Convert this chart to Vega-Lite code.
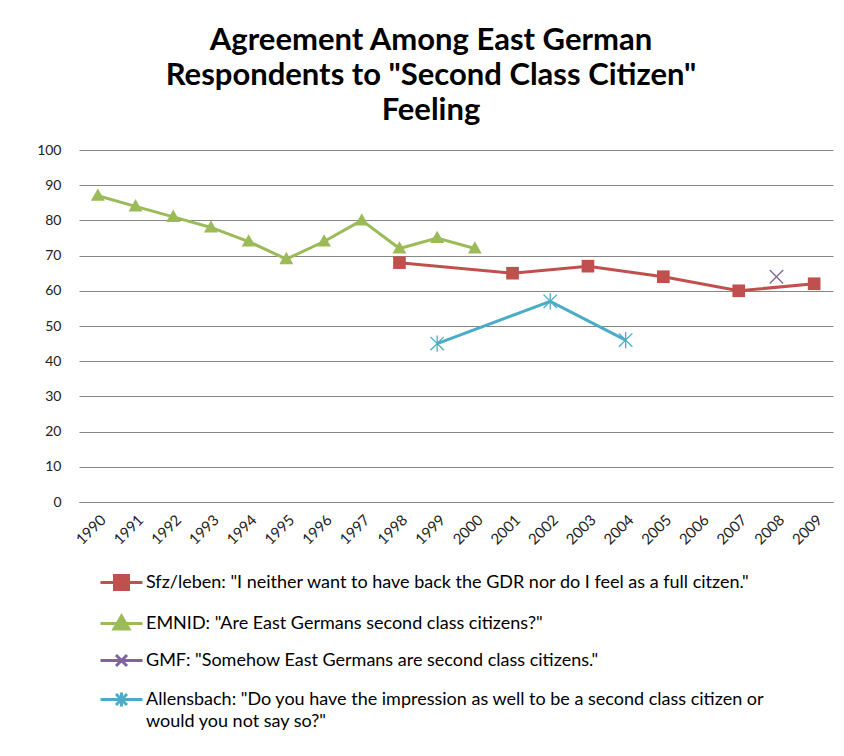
{
  "$schema": "https://vega.github.io/schema/vega-lite/v6.json",
  "autosize": "none",
  "width": 754,
  "height": 352,
  "padding": {"left": 79, "top": 150, "right": 11, "bottom": 254},
  "background": "white",
  "config": {
    "font": "Lato",
    "view": {"stroke": null},
    "axis": {"labelFont": "Lato", "labelFontSize": 14, "labelColor": "#222"}
  },
  "title": {
    "text": ["Agreement Among East German", "Respondents to \"Second Class Citizen\"", "Feeling"],
    "font": "Lato",
    "fontSize": 31,
    "fontWeight": "bold",
    "lineHeight": 35,
    "anchor": "middle",
    "dx": -25,
    "offset": 16,
    "color": "#000"
  },
  "data": {
    "values": [
      {"year": "1990", "value": 87, "series": "EMNID: \"Are East Germans second class citizens?\""},
      {"year": "1991", "value": 84, "series": "EMNID: \"Are East Germans second class citizens?\""},
      {"year": "1992", "value": 81, "series": "EMNID: \"Are East Germans second class citizens?\""},
      {"year": "1993", "value": 78, "series": "EMNID: \"Are East Germans second class citizens?\""},
      {"year": "1994", "value": 74, "series": "EMNID: \"Are East Germans second class citizens?\""},
      {"year": "1995", "value": 69, "series": "EMNID: \"Are East Germans second class citizens?\""},
      {"year": "1996", "value": 74, "series": "EMNID: \"Are East Germans second class citizens?\""},
      {"year": "1997", "value": 80, "series": "EMNID: \"Are East Germans second class citizens?\""},
      {"year": "1998", "value": 72, "series": "EMNID: \"Are East Germans second class citizens?\""},
      {"year": "1999", "value": 75, "series": "EMNID: \"Are East Germans second class citizens?\""},
      {"year": "2000", "value": 72, "series": "EMNID: \"Are East Germans second class citizens?\""},
      {"year": "1998", "value": 68, "series": "Sfz/leben: \"I neither want to have back the GDR nor do I feel as a full citzen.\""},
      {"year": "2001", "value": 65, "series": "Sfz/leben: \"I neither want to have back the GDR nor do I feel as a full citzen.\""},
      {"year": "2003", "value": 67, "series": "Sfz/leben: \"I neither want to have back the GDR nor do I feel as a full citzen.\""},
      {"year": "2005", "value": 64, "series": "Sfz/leben: \"I neither want to have back the GDR nor do I feel as a full citzen.\""},
      {"year": "2007", "value": 60, "series": "Sfz/leben: \"I neither want to have back the GDR nor do I feel as a full citzen.\""},
      {"year": "2009", "value": 62, "series": "Sfz/leben: \"I neither want to have back the GDR nor do I feel as a full citzen.\""},
      {"year": "2008", "value": 64, "series": "GMF: \"Somehow East Germans are second class citizens.\""},
      {"year": "1999", "value": 45, "series": "Allensbach: \"Do you have the impression as well to be a second class citizen or would you not say so?\""},
      {"year": "2002", "value": 57, "series": "Allensbach: \"Do you have the impression as well to be a second class citizen or would you not say so?\""},
      {"year": "2004", "value": 46, "series": "Allensbach: \"Do you have the impression as well to be a second class citizen or would you not say so?\""}
    ]
  },
  "encoding": {
    "x": {
      "field": "year",
      "type": "ordinal",
      "scale": {"domain": ["1990","1991","1992","1993","1994","1995","1996","1997","1998","1999","2000","2001","2002","2003","2004","2005","2006","2007","2008","2009"], "paddingInner": 0, "paddingOuter": 0},
      "axis": {"title": null, "labelAngle": -45, "labelAlign": "right", "labelBaseline": "top", "labelPadding": 10, "labelFontSize": 15, "ticks": false, "domainColor": "#868686", "domainWidth": 1}
    },
    "y": {
      "field": "value",
      "type": "quantitative",
      "scale": {"domain": [0, 100], "nice": false},
      "axis": {"title": null, "values": [0,10,20,30,40,50,60,70,80,90,100], "grid": true, "gridColor": "#868686", "gridWidth": 1, "domain": false, "ticks": false, "labelPadding": 18}
    },
    "color": {
      "field": "series",
      "type": "nominal",
      "scale": {
        "domain": [
          "Sfz/leben: \"I neither want to have back the GDR nor do I feel as a full citzen.\"",
          "EMNID: \"Are East Germans second class citizens?\"",
          "GMF: \"Somehow East Germans are second class citizens.\"",
          "Allensbach: \"Do you have the impression as well to be a second class citizen or would you not say so?\""
        ],
        "range": ["#C0504D", "#9BBB59", "#8064A2", "#4BACC6"]
      },
      "legend": {
        "title": null,
        "orient": "none",
        "direction": "vertical",
        "legendX": 31,
        "legendY": 421,
        "padding": 0,
        "symbolSize": 400,
        "rowPadding": 14,
        "labelOffset": 13,
        "labelLimit": 1000,
        "labelFont": "Lato",
        "labelFontSize": 18,
        "labelColor": "#000",
        "labelExpr": "indexof(datum.label, ' would') > 0 ? [slice(datum.label, 0, indexof(datum.label, ' would')), slice(datum.label, indexof(datum.label, ' would') + 1)] : datum.label",
        "encode": {
          "labels": {"update": {"lineHeight": {"value": 22}}},
          "symbols": {
            "update": {
              "shape": {"signal": "indexof(datum.value,'Sfz')==0 ? 'M-2.1,0H2.1M-0.7,-0.7H0.7V0.7H-0.7Z' : indexof(datum.value,'EMNID')==0 ? 'M-2.1,0H2.1M0,-0.75L0.75,0.55H-0.75Z' : indexof(datum.value,'GMF')==0 ? 'M-2.1,0H2.1M-0.55,-0.55L0.55,0.55M-0.55,0.55L0.55,-0.55' : 'M-2.1,0H2.1M-0.55,-0.55L0.55,0.55M-0.55,0.55L0.55,-0.55M0,-0.7V0.7'"},
              "fill": {"signal": "scale('color', datum.value)"},
              "stroke": {"signal": "scale('color', datum.value)"},
              "strokeWidth": {"value": 3},
              "opacity": {"value": 1},
              "size": {"value": 400}
            }
          }
        }
      }
    }
  },
  "layer": [
    {
      "mark": {"type": "line", "strokeWidth": 3},
      "encoding": {"order": {"field": "year", "type": "ordinal"}}
    },
    {
      "transform": [{"filter": "indexof(datum.series,'Sfz')==0 || indexof(datum.series,'EMNID')==0"}],
      "mark": {"type": "point", "filled": true, "opacity": 1, "size": 160},
      "encoding": {
        "shape": {
          "field": "series",
          "type": "nominal",
          "scale": {
            "domain": [
              "Sfz/leben: \"I neither want to have back the GDR nor do I feel as a full citzen.\"",
              "EMNID: \"Are East Germans second class citizens?\""
            ],
            "range": ["M-1,-1H1V1H-1Z", "M0,-1.15L1.1,0.8H-1.1Z"]
          },
          "legend": null
        }
      }
    },
    {
      "transform": [{"filter": "indexof(datum.series,'GMF')==0 || indexof(datum.series,'Allensbach')==0"}],
      "mark": {"type": "point", "filled": false, "opacity": 1, "size": 180, "strokeWidth": 1.3},
      "encoding": {
        "shape": {
          "field": "series",
          "type": "nominal",
          "scale": {
            "domain": [
              "GMF: \"Somehow East Germans are second class citizens.\"",
              "Allensbach: \"Do you have the impression as well to be a second class citizen or would you not say so?\""
            ],
            "range": ["M-1,-1L1,1M-1,1L1,-1", "M-1,-1L1,1M-1,1L1,-1M0,-1.2V1.2"]
          },
          "legend": null
        }
      }
    }
  ],
  "resolve": {"scale": {"shape": "independent"}}
}
